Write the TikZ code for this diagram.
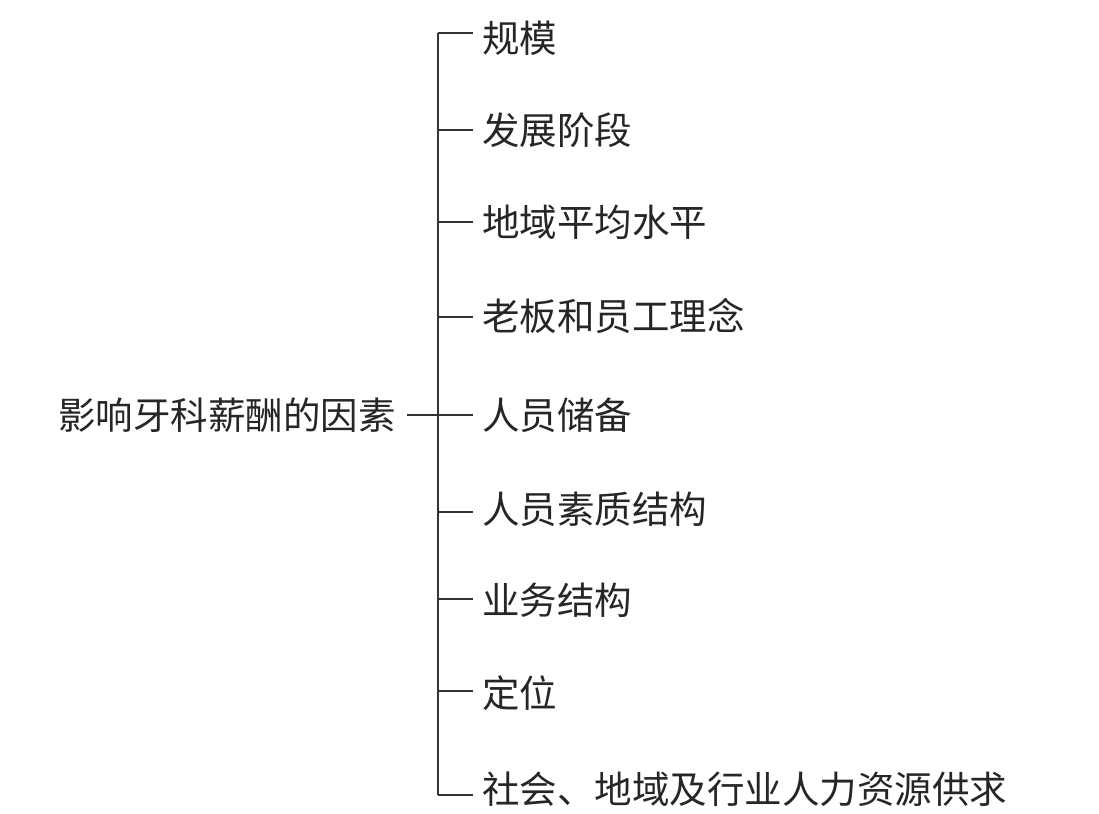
\documentclass[tikz,border=0pt]{standalone}
\usepackage{fontspec}
\newfontfamily\cjk{Noto Sans CJK SC}
\begin{document}
\begin{tikzpicture}[x=1pt,y=-1pt,
  lbl/.style={anchor=west,inner sep=0pt,font=\cjk\fontsize{37.5}{40}\selectfont,text=black!85},
  ln/.style={draw=black!80,line width=1.6pt}]
\useasboundingbox (0,0) rectangle (1099,813);
\node[lbl,anchor=east] (root) at (396,415) {影响牙科薪酬的因素};
\coordinate (top) at (438,33);
\coordinate (bot) at (438,795);
\coordinate (mid) at (438,415);
\draw[ln] (top) -- (bot);
\draw[ln] (407,415) coordinate (rootend) -- (mid);
\foreach \i/\ly/\ty/\t in {1/33/38/规模, 2/130/130/发展阶段, 3/222/222/地域平均水平, 4/317/316/老板和员工理念, 5/415/415/人员储备, 6/512/509/人员素质结构, 7/599/600/业务结构, 8/691/693/定位, 9/795/789/社会、地域及行业人力资源供求}{
  \node[lbl] (n\i) at (482,\ty) {\t};
  \coordinate (s\i) at (438,\ly);
  \coordinate (e\i) at (473,\ly);
  \draw[ln] (s\i) -- (e\i);
}
\end{tikzpicture}
\end{document}
